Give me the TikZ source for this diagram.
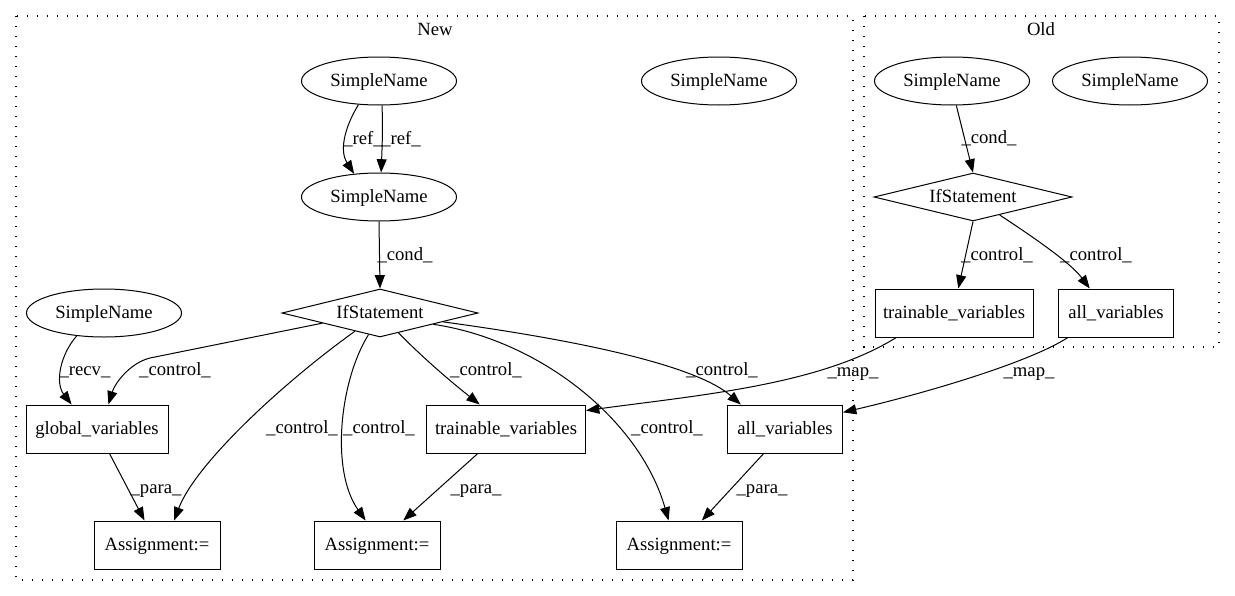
\documentclass[tikz,border=0pt]{standalone}
\usepackage{fontspec}
\setmainfont{Liberation Serif}
\usetikzlibrary{shapes.geometric,arrows.meta}
\begin{document}
\begin{tikzpicture}[x=0.75pt,y=-0.75pt,
  every node/.style={font=\fontsize{14}{16}\selectfont, text height=10pt, text depth=2.5pt},
  sn/.style={ellipse, draw, line width=0.75pt, minimum width=116.25pt, minimum height=36pt, inner sep=0pt},
  box/.style={rectangle, draw, line width=0.75pt, minimum height=36pt, inner sep=0pt},
  ifs/.style={diamond, draw, line width=0.75pt, shape aspect=4, minimum width=147pt, minimum height=36pt, inner sep=0pt},
  lbl/.style={inner sep=0pt},
  arr/.style={draw, line width=0.75pt, -{Triangle[length=10pt,width=7.5pt]}},
  clus/.style={draw, line width=0.9pt, dash pattern=on 1pt off 6.5pt}]
\useasboundingbox (0,0) rectangle (1235,596);
% clusters
\draw[clus] (16,16) rectangle (853,580);
\draw[clus] (864,16) rectangle (1219,347);
\node[lbl] (tnew) at (435,30) {New};
\node[lbl] (told) at (1041,30) {Old};
% New nodes
\node[sn] (sna) at (379,81) {SimpleName};
\node[sn] (snb) at (379,197) {SimpleName};
\node[sn] (snc) at (719,81) {SimpleName};
\node[sn] (snd) at (104,313) {SimpleName};
\node[ifs] (ifn) at (380,313) {IfStatement};
\node[box, minimum width=106.5pt] (gv) at (97,429) {global\_variables};
\node[box, minimum width=119.25pt] (tvn) at (506,429) {trainable\_variables};
\node[box, minimum width=86.25pt] (avn) at (785,429) {all\_variables};
\node[box, minimum width=94.5pt] (as1) at (157,545) {Assignment:=};
\node[box, minimum width=94.5pt] (as2) at (377,545) {Assignment:=};
\node[box, minimum width=94.5pt] (as3) at (679,545) {Assignment:=};
% Old nodes
\node[sn] (osa) at (952,81) {SimpleName};
\node[sn] (osb) at (1130,81) {SimpleName};
\node[ifs, minimum width=148.5pt] (ifo) at (973,197) {IfStatement};
\node[box, minimum width=118.5pt] (tvo) at (954,313) {trainable\_variables};
\node[box, minimum width=86.25pt] (avo) at (1116,313) {all\_variables};
% New edges
\draw[arr] (sna.229) .. controls (343,130) and (340,152) .. (snb.137);
\draw[arr] (sna.277) .. controls (383,128) and (382,150) .. (snb.85);
\draw[arr] (snb.south) -- (ifn.north);
\draw[arr] (snd.220) .. controls (60,355) and (55,383) .. (gv.136);
\draw[arr] (ifn.190) -- (150,358) .. controls (130,363) and (115,383) .. (gv.65);
\draw[arr] (ifn.216) .. controls (280,385) and (195,465) .. (as1.55);
\draw[arr] (ifn.242) .. controls (340,380) and (330,470) .. (as2.115);
\draw[arr] (ifn.313) .. controls (425,360) and (455,385) .. (tvn.137);
\draw[arr] (ifn.-8.5) .. controls (540,335) and (690,360) .. (avn.151);
\draw[arr] (ifn.-12.8) .. controls (540,340) and (640,420) .. (as3.113);
\draw[arr] (gv.-63) -- (as1.117);
\draw[arr] (tvn.221) -- (as2.43);
\draw[arr] (avn.229) -- (as3.47.5);
% map edges
\draw[arr] (tvo.203) .. controls (820,385) and (700,395) .. (tvn.13);
\draw[arr] (avo.207.6) .. controls (1030,362) and (930,392) .. (avn.16);
% Old edges
\draw[arr] (osa.280) -- (ifo.north);
\draw[arr] (ifo.south) -- (tvo.80);
\draw[arr] (ifo.-34) .. controls (1030,235) and (1070,262) .. (avo.137);
% labels
\node[lbl] (l1) at (363,139) {\_ref\_};
\node[lbl] (l2) at (401,139) {\_ref\_};
\node[lbl] (l3) at (405,255) {\_cond\_};
\node[lbl] (l4) at (85,370) {\_recv\_};
\node[lbl] (l5) at (175,370) {\_control\_};
\node[lbl] (l6) at (302,428) {\_control\_};
\node[lbl] (l7) at (379,428) {\_control\_};
\node[lbl] (l8) at (486,370) {\_control\_};
\node[lbl] (l9) at (722,370) {\_control\_};
\node[lbl] (l10) at (667,428) {\_control\_};
\node[lbl] (l11) at (156,488) {\_para\_};
\node[lbl] (l12) at (476,488) {\_para\_};
\node[lbl] (l13) at (762,488) {\_para\_};
\node[lbl] (l14) at (853,371) {\_map\_};
\node[lbl] (l15) at (1029,371) {\_map\_};
\node[lbl] (l16) at (989,138) {\_cond\_};
\node[lbl] (l17) at (997,255) {\_control\_};
\node[lbl] (l18) at (1096,255) {\_control\_};
\end{tikzpicture}
\end{document}
